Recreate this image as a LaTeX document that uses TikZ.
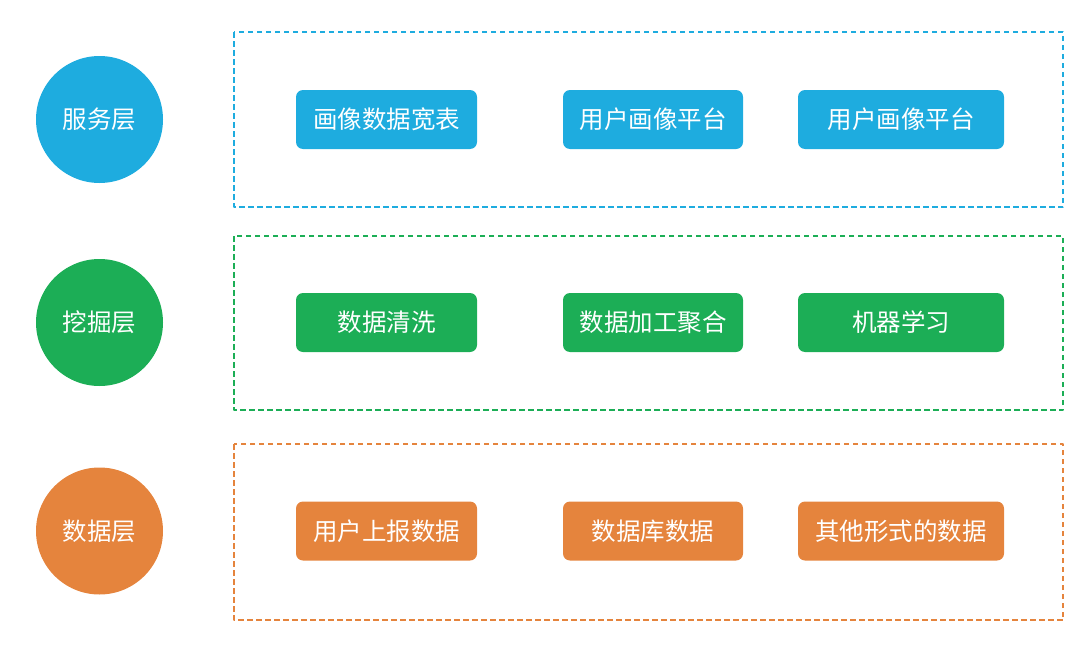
\documentclass[tikz,border=0pt]{standalone}
\usepackage{fontspec}
\setmainfont{Noto Sans CJK SC}
\usetikzlibrary{positioning}
\definecolor{svc}{RGB}{30,172,223}
\definecolor{mine}{RGB}{28,174,86}
\definecolor{dat}{RGB}{229,132,61}
\tikzset{
  every picture/.style={x=1pt, y=-1pt, line join=round},
  every node/.style={font=\fontsize{24.5pt}{28pt}\selectfont, text=white},
  % Ebenen links
  layer/.style={circle, fill=#1, minimum size=127pt, inner sep=0pt},
  % Rahmen je Ebene
  frame/.style={draw=#1, line width=1.3pt, dash pattern=on 5.5pt off 3.5pt},
  % Bausteine
  block/.style={fill=#1, rounded corners=7pt, minimum height=59pt, inner sep=0pt},
  wa/.style={minimum width=181pt},
  wb/.style={minimum width=180pt},
  wc/.style={minimum width=206pt},
}
\begin{document}
\begin{tikzpicture}
  \useasboundingbox (0,0) rectangle (1080,653);
  % Ebenen
  \node[layer=svc] (lsvc) at (99.5,119.5) {服务层};
  \node[layer=mine] (lmine) at (99.5,322.5) {挖掘层};
  \node[layer=dat] (ldat) at (99.5,531) {数据层};
  % Rahmen
  \draw[frame=svc] (234,32) rectangle (1063,207);
  \draw[frame=mine] (234,236) rectangle (1063,410);
  \draw[frame=dat] (234,444) rectangle (1063,620);
  % Serviceebene
  \node[block=svc, wa] (s1) at (386.5,119.5) {画像数据宽表};
  \node[block=svc, wb] (s2) at (653,119.5) {用户画像平台};
  \node[block=svc, wc] (s3) at (901,119.5) {用户画像平台};
  % Mining
  \node[block=mine, wa] (m1) at (386.5,322.5) {数据清洗};
  \node[block=mine, wb] (m2) at (653,322.5) {数据加工聚合};
  \node[block=mine, wc] (m3) at (901,322.5) {机器学习};
  % Daten
  \node[block=dat, wa] (d1) at (386.5,531) {用户上报数据};
  \node[block=dat, wb] (d2) at (653,531) {数据库数据};
  \node[block=dat, wc] (d3) at (901,531) {其他形式的数据};
\end{tikzpicture}
\end{document}
